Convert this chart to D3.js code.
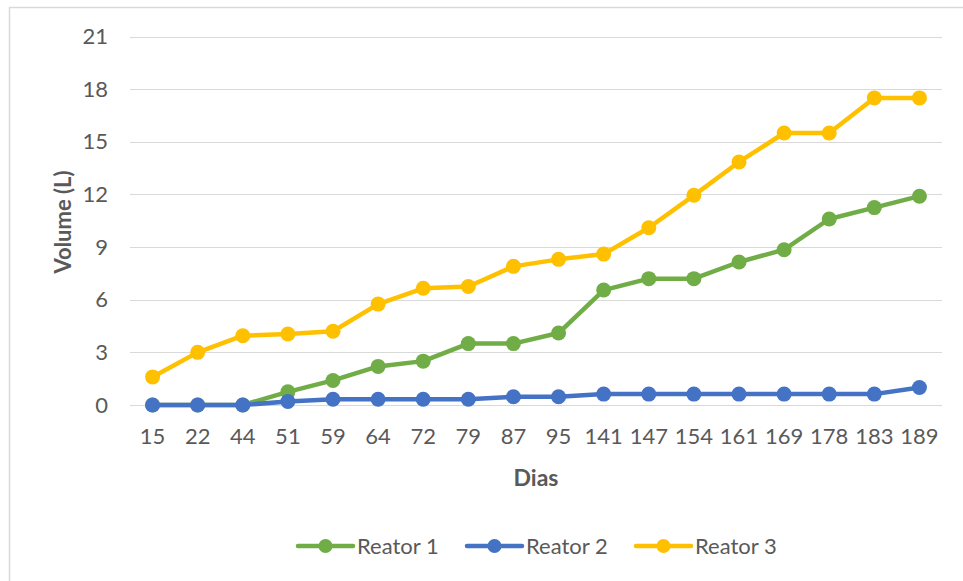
<!DOCTYPE html>
<html><head><meta charset="utf-8">
<script src="https://cdn.jsdelivr.net/npm/d3@7"></script>
<style>
html,body{margin:0;padding:0;background:#fff;}
svg{display:block;font-family:Lato,"Open Sans",sans-serif;}
</style></head>
<body>
<svg id="chart" width="963" height="581"></svg>
<script>
const days = ["15","22","44","51","59","64","72","79","87","95","141","147","154","161","169","178","183","189"];
const reator1 = [0,0,0,0.75,1.4,2.2,2.5,3.5,3.5,4.1,6.55,7.2,7.2,8.15,8.85,10.6,11.25,11.9];
const reator2 = [0,0,0,0.2,0.33,0.33,0.33,0.33,0.47,0.47,0.62,0.62,0.62,0.62,0.62,0.62,0.62,1.0];
const reator3 = [1.6,3.0,3.95,4.05,4.2,5.75,6.65,6.75,7.9,8.3,8.6,10.1,11.95,13.85,15.5,15.5,17.5,17.5];
const yTicks = [0,3,6,9,12,15,18,21];
const seriesNames = ["Reator 1","Reator 2","Reator 3"];
const seriesColors = ["#70AD47","#4472C4","#FFC000"];
const series = [reator1, reator2, reator3];

const svg = d3.select("#chart");
const textColor = "#595959";

// chart area border
svg.append("rect").attr("x",9.5).attr("y",7.5).attr("width",980).attr("height",600)
  .attr("fill","none").attr("stroke","#d9d9d9").attr("stroke-width",1.5);

const x = d3.scaleBand().domain(days).range([130,942]);
const y = d3.scaleLinear().domain([0,21]).range([405,36.5]);

// gridlines
svg.append("g").selectAll("line").data(yTicks).join("line")
  .attr("x1",130).attr("x2",942)
  .attr("y1",d=>Math.round(y(d))+0.5).attr("y2",d=>Math.round(y(d))+0.5)
  .attr("stroke","#d9d9d9").attr("stroke-width",1);

// y axis labels
const yAxis = d3.axisLeft(y).tickValues(yTicks).tickSize(0).tickPadding(0);
const gy = svg.append("g").attr("transform","translate(108,0)").call(yAxis);
gy.select(".domain").remove();
gy.selectAll("text").attr("fill",textColor).style("font-size","22px").style("font-family","Lato, sans-serif");

// x axis labels
const xAxis = d3.axisBottom(x).tickSize(0).tickPadding(0);
const gx = svg.append("g").attr("transform","translate(0,428.5)").call(xAxis);
gx.select(".domain").remove();
gx.selectAll("text").attr("fill",textColor).style("font-size","22px").style("font-family","Lato, sans-serif");

// axis titles
svg.append("text").attr("x",536).attr("y",486).attr("text-anchor","middle")
  .attr("fill",textColor).style("font-size","23px").style("font-weight","bold").text("Dias");
svg.append("text").attr("transform","translate(71,222) rotate(-90)").attr("text-anchor","middle")
  .attr("fill",textColor).style("font-size","22px").style("font-weight","bold").text("Volume (L)");

// lines & markers
const cx = d => x(d) + x.bandwidth()/2;
const line = d3.line().x((v,i)=>cx(days[i])).y(v=>y(v));
series.forEach((s,k)=>{
  const g = svg.append("g");
  g.append("path").datum(s).attr("d",line).attr("fill","none")
    .attr("stroke",seriesColors[k]).attr("stroke-width",4.5).attr("stroke-linejoin","round");
  g.selectAll("circle").data(s).join("circle")
    .attr("cx",(v,i)=>cx(days[i])).attr("cy",v=>y(v)).attr("r",7.5)
    .attr("fill",seriesColors[k]);
});

// legend
const legendX = [298,467,636];
const lg = svg.append("g");
seriesNames.forEach((n,k)=>{
  const lx = legendX[k], ly = 546;
  lg.append("line").attr("x1",lx).attr("x2",lx+55).attr("y1",ly).attr("y2",ly)
    .attr("stroke",seriesColors[k]).attr("stroke-width",4.5).attr("stroke-linecap","round");
  lg.append("circle").attr("cx",lx+27.5).attr("cy",ly).attr("r",7).attr("fill",seriesColors[k]);
  lg.append("text").attr("x",lx+59).attr("y",ly+8).attr("fill",textColor)
    .style("font-size","22px").text(n);
});
</script>
</body></html>
